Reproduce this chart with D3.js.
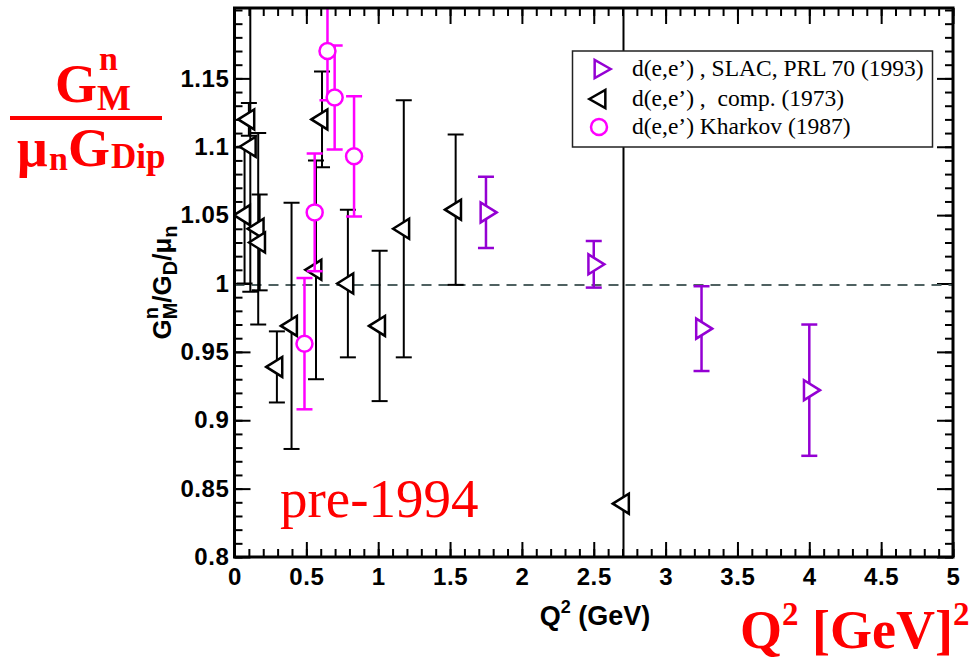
<!DOCTYPE html>
<html>
<head>
<meta charset="utf-8">
<script src="https://cdn.jsdelivr.net/npm/d3@7"></script>
<style>
  body { margin: 0; background: #fff; }
  svg { display: block; }
</style>
</head>
<body>
<div id="chart"></div>
<script>
// d(e,e') SLAC, PRL 70 (1993)
const slacQ2 = [1.75, 2.5, 3.25, 4.0];
const slacRatio = [1.052, 1.014, 0.967, 0.922];
const slacErr = [0.026, 0.017, 0.031, 0.048];

// d(e,e') compilation (1973)
const compQ2 = [0.07, 0.11, 0.10, 0.165, 0.175, 0.295, 0.397, 0.567, 0.609, 0.789, 1.01, 1.178, 1.539, 2.707];
const compRatio = [1.05, 1.10, 1.12, 1.04, 1.03, 0.939, 0.969, 1.01, 1.12, 1.0, 0.969, 1.04, 1.054, 0.839];
const compErr = [0.05, 0.106, 0.012, 0.07, 0.035, 0.026, 0.09, 0.08, 0.035, 0.054, 0.055, 0.094, 0.055, 0.5];

// d(e,e') Kharkov (1987)
const kharQ2 = [0.487, 0.558, 0.647, 0.697, 0.832];
const kharRatio = [0.956, 1.052, 1.17, 1.136, 1.093];
const kharErr = [0.048, 0.043, 0.036, 0.038, 0.044];

const xTicks = [0, 0.5, 1, 1.5, 2, 2.5, 3, 3.5, 4, 4.5, 5];
const xTickLabels = ['0', '0.5', '1', '1.5', '2', '2.5', '3', '3.5', '4', '4.5', '5'];
const yTicks = [0.8, 0.85, 0.9, 0.95, 1, 1.05, 1.1, 1.15];
const yTickLabels = ['0.8', '0.85', '0.9', '0.95', '1', '1.05', '1.1', '1.15'];
const legendLabels = ['d(e,e\u2019) , SLAC, PRL 70 (1993)', 'd(e,e\u2019) ,  comp. (1973)', 'd(e,e\u2019) Kharkov (1987)'];

const width = 978;
const height = 659;
const frame = { left: 234.5, right: 953, top: 8, bottom: 557 };

const sans = '"Liberation Sans", Arial, Helvetica, sans-serif';
const serif = '"Liberation Serif", "Times New Roman", Times, serif';

const svg = d3
  .select('#chart')
  .append('svg')
  .attr('width', width)
  .attr('height', height);

const x = d3.scaleLinear().domain([0, 5]).range([frame.left, frame.right]);
const y = d3.scaleLinear().domain([0.8, 1.2]).range([frame.bottom, frame.top + 2]);

svg
  .append('defs')
  .append('clipPath')
  .attr('id', 'plot-clip')
  .append('rect')
  .attr('x', frame.left)
  .attr('y', frame.top)
  .attr('width', frame.right - frame.left)
  .attr('height', frame.bottom - frame.top);

// ticks, all pointing inwards
const styleAxis = (g, labels) => {
  g.select('.domain').remove();
  g.selectAll('line').attr('stroke', '#000').attr('stroke-width', 2);
  g.selectAll('text')
    .attr('font-family', sans)
    .attr('font-weight', 'bold')
    .attr('font-size', 24)
    .attr('letter-spacing', 0.6)
    .attr('fill', '#000');
  if (!labels) g.selectAll('text').remove();
};

const addAxis = (axis, tx, ty, labels) => {
  svg
    .append('g')
    .attr('transform', `translate(${tx},${ty})`)
    .call(axis)
    .call(g => styleAxis(g, labels));
};

const fmt = (list, labels) => d => labels[list.indexOf(d)];

addAxis(d3.axisBottom(x).ticks(50).tickSize(-8).tickFormat(''), 0, frame.bottom, false);
addAxis(d3.axisBottom(x).tickValues(xTicks).tickSize(-15).tickPadding(11).tickFormat(fmt(xTicks, xTickLabels)), 0, frame.bottom, true);
addAxis(d3.axisTop(x).ticks(50).tickSize(-8).tickFormat(''), 0, frame.top, false);
addAxis(d3.axisTop(x).tickValues(xTicks).tickSize(-16).tickFormat(''), 0, frame.top, false);
addAxis(d3.axisLeft(y).ticks(40).tickSize(-8).tickFormat(''), frame.left, 0, false);
addAxis(d3.axisLeft(y).tickValues(yTicks).tickSize(-16).tickPadding(5).tickFormat(fmt(yTicks, yTickLabels)), frame.left, 0, true);
addAxis(d3.axisRight(y).ticks(40).tickSize(-8).tickFormat(''), frame.right, 0, false);
addAxis(d3.axisRight(y).tickValues(yTicks).tickSize(-16).tickFormat(''), frame.right, 0, false);

const plot = svg.append('g').attr('clip-path', 'url(#plot-clip)');

// reference line at unity
plot
  .append('line')
  .attr('x1', frame.left)
  .attr('x2', frame.right)
  .attr('y1', y(1) + 1.5)
  .attr('y2', y(1) + 1.5)
  .attr('stroke', '#4f6161')
  .attr('stroke-width', 2)
  .attr('stroke-dasharray', '10,7');

// triangle centred on its centroid
const triangle = (dir, w = 16, h = 20) => {
  const a = (-2 * w) / 3 * dir;
  const b = (w / 3) * dir;
  return `M${a},0L${b},${-h / 2}L${b},${h / 2}Z`;
};

const drawSeries = (q2, ratio, err, color, barWidth, marker) => {
  const data = q2.map((q, i) => ({ q, r: ratio[i], e: err[i] }));
  const g = plot.append('g');
  const bars = g
    .selectAll('g.bar')
    .data(data)
    .enter()
    .append('g')
    .attr('stroke', color)
    .attr('stroke-width', barWidth);
  bars
    .append('line')
    .attr('x1', d => x(d.q))
    .attr('x2', d => x(d.q))
    .attr('y1', d => y(d.r + d.e))
    .attr('y2', d => y(d.r - d.e));
  [1, -1].forEach(s => {
    bars
      .append('line')
      .attr('x1', d => x(d.q) - 8)
      .attr('x2', d => x(d.q) + 8)
      .attr('y1', d => y(d.r + s * d.e))
      .attr('y2', d => y(d.r + s * d.e));
  });
  const marks = g
    .selectAll('.mark')
    .data(data)
    .enter();
  if (marker === 'circle') {
    marks
      .append('circle')
      .attr('cx', d => x(d.q))
      .attr('cy', d => y(d.r))
      .attr('r', 8)
      .attr('fill', '#fff')
      .attr('stroke', color)
      .attr('stroke-width', 2.5);
  } else {
    marks
      .append('path')
      .attr('d', triangle(marker === 'right' ? -1 : 1))
      .attr('transform', d => `translate(${x(d.q)},${y(d.r)})`)
      .attr('fill', '#fff')
      .attr('stroke', color)
      .attr('stroke-width', 2.5);
  }
};

const colors = ['#9400d3', '#000000', '#ff00ff'];
drawSeries(slacQ2, slacRatio, slacErr, colors[0], 2.5, 'right');
drawSeries(compQ2, compRatio, compErr, colors[1], 2, 'left');
drawSeries(kharQ2, kharRatio, kharErr, colors[2], 2.5, 'circle');

// frame
svg
  .append('rect')
  .attr('x', frame.left)
  .attr('y', frame.top)
  .attr('width', frame.right - frame.left)
  .attr('height', frame.bottom - frame.top)
  .attr('fill', 'none')
  .attr('stroke', '#000')
  .attr('stroke-width', 3);

// legend
const legend = svg.append('g');
legend
  .append('rect')
  .attr('x', 572.5)
  .attr('y', 51)
  .attr('width', 360)
  .attr('height', 96)
  .attr('fill', '#fff')
  .attr('stroke', '#222')
  .attr('stroke-width', 1.5);
const legendRows = [69, 99, 127];
const legendMarkers = ['right', 'left', 'circle'];
legendRows.forEach((ry, i) => {
  if (legendMarkers[i] === 'circle') {
    legend
      .append('circle')
      .attr('cx', 599)
      .attr('cy', ry)
      .attr('r', 8)
      .attr('fill', '#fff')
      .attr('stroke', colors[i])
      .attr('stroke-width', 2.5);
  } else {
    legend
      .append('path')
      .attr('d', triangle(legendMarkers[i] === 'right' ? -1 : 1, 16, 18))
      .attr('transform', `translate(600,${ry})`)
      .attr('fill', '#fff')
      .attr('stroke', colors[i])
      .attr('stroke-width', 2.5);
  }
  legend
    .append('text')
    .attr('x', 632)
    .attr('y', ry + 7)
    .attr('font-family', serif)
    .attr('font-size', 23.5)
    .style('white-space', 'pre')
    .text(legendLabels[i]);
});

// axis titles
const xTitle = svg
  .append('text')
  .attr('x', 595)
  .attr('y', 625)
  .attr('text-anchor', 'middle')
  .attr('font-family', sans)
  .attr('font-weight', 'bold')
  .attr('font-size', 27);
xTitle.append('tspan').text('Q');
xTitle.append('tspan').attr('font-size', 18).attr('dy', -12).text('2');
xTitle.append('tspan').attr('dy', 12).text(' (GeV)');

const yTitle = svg
  .append('text')
  .attr('transform', `translate(171,${(frame.top + frame.bottom) / 2}) rotate(-90)`)
  .attr('text-anchor', 'middle')
  .attr('font-family', sans)
  .attr('font-weight', 'bold')
  .attr('font-size', 26);
yTitle.append('tspan').text('G');
const subM = yTitle.append('tspan').attr('font-size', 20).attr('dy', 6).text('M');
const wM = subM.node().getComputedTextLength();
const supN = yTitle.append('tspan').attr('font-size', 20).attr('dx', -wM).attr('dy', -19).text('n');
const wN = supN.node().getComputedTextLength();
yTitle.append('tspan').attr('dx', wM - wN).attr('dy', 13).text('/G');
yTitle.append('tspan').attr('font-size', 20).attr('dy', 6).text('D');
yTitle.append('tspan').attr('dy', -6).text('/\u03bc');
yTitle.append('tspan').attr('font-size', 20).attr('dy', 6).text('n');

// big red annotations
const red = '#ff0000';
const bigText = (tx, ty, size, txt) =>
  svg
    .append('text')
    .attr('x', tx)
    .attr('y', ty)
    .attr('font-family', serif)
    .attr('font-weight', 'bold')
    .attr('font-size', size)
    .attr('fill', red)
    .text(txt);

bigText(55, 102, 54, 'G');
bigText(99, 70, 34, 'n');
bigText(97, 110, 36, 'M');
svg
  .append('rect')
  .attr('x', 10)
  .attr('y', 116)
  .attr('width', 152)
  .attr('height', 4)
  .attr('fill', red);
bigText(17, 166, 54, '\u03bc');
bigText(49, 170, 34, 'n');
bigText(68, 166, 54, 'G');
bigText(111, 168, 35, 'Dip');

svg
  .append('text')
  .attr('x', 280)
  .attr('y', 517)
  .attr('font-family', serif)
  .attr('font-size', 55)
  .attr('fill', red)
  .text('pre-1994');

const qLabel = svg
  .append('text')
  .attr('x', 740)
  .attr('y', 648)
  .attr('font-family', serif)
  .attr('font-weight', 'bold')
  .attr('font-size', 54)
  .attr('fill', red);
qLabel.append('tspan').text('Q');
qLabel.append('tspan').attr('font-size', 33).attr('dy', -23).text('2');
qLabel.append('tspan').attr('dy', 23).text(' [GeV]');
qLabel.append('tspan').attr('font-size', 33).attr('dy', -23).text('2');
</script>
</body>
</html>
